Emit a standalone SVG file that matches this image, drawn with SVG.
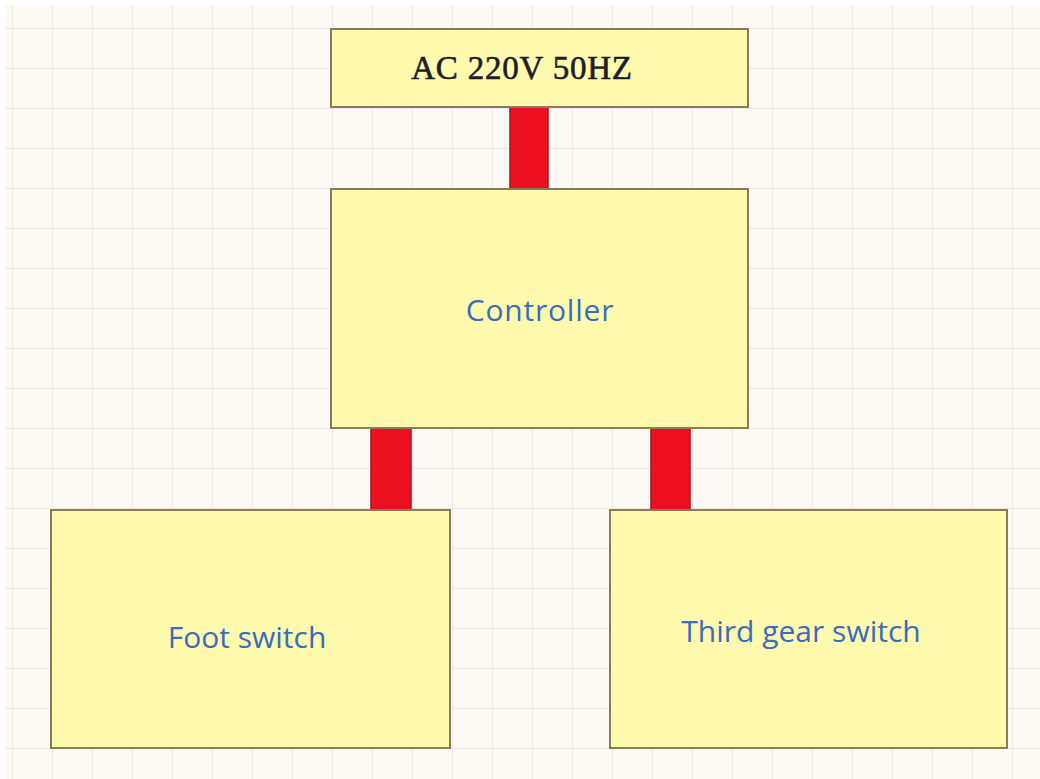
<svg xmlns="http://www.w3.org/2000/svg" width="1040" height="779" viewBox="0 0 1040 779">
  <defs>
    <pattern id="grid" x="12" y="28" width="40" height="40" patternUnits="userSpaceOnUse">
      <path d="M0.5 0 V40 M0 0.5 H40" fill="none" stroke="#eee9e4" stroke-width="1.2"/>
    </pattern>
  </defs>
  <style>
    .box { fill: #fffaae; stroke: #8a7b5c; stroke-width: 2; }
    .wire { fill: #ec1020; stroke: #a8141c; stroke-width: 1.5; }
    .lbl { font-family: "Open Sans", "Noto Sans", sans-serif; font-size: 30px; fill: #3a6cc0; text-anchor: middle; }
    .ac { font-family: "Liberation Serif", "Times New Roman", serif; font-size: 33px; fill: #1d1d2c; stroke: #1d1d2c; stroke-width: 0.6; letter-spacing: 0.8px; text-anchor: middle; }
  </style>
  <rect x="0" y="0" width="1040" height="779" fill="#ffffff"/>
  <rect x="5" y="5" width="1035" height="774" fill="#fdfaf6"/>
  <rect x="5" y="5" width="1035" height="774" fill="url(#grid)"/>

  <g id="connectors">
    <rect class="wire" x="510" y="107" width="38" height="82"/>
    <rect class="wire" x="371" y="428" width="40" height="82"/>
    <rect class="wire" x="651" y="428" width="39" height="82"/>
  </g>

  <g id="ac-source">
    <rect class="box" x="331" y="29" width="417" height="78"/>
    <text class="ac" x="522" y="79">AC 220V 50HZ</text>
  </g>

  <g id="controller">
    <rect class="box" x="331" y="189" width="417" height="239"/>
    <text class="lbl" x="540" y="321" letter-spacing="0.8">Controller</text>
  </g>

  <g id="foot-switch">
    <rect class="box" x="51" y="510" width="399" height="238"/>
    <text class="lbl" x="247" y="648">Foot switch</text>
  </g>

  <g id="third-gear-switch">
    <rect class="box" x="610" y="510" width="397" height="238"/>
    <text class="lbl" x="801" y="642">Third gear switch</text>
  </g>
</svg>
